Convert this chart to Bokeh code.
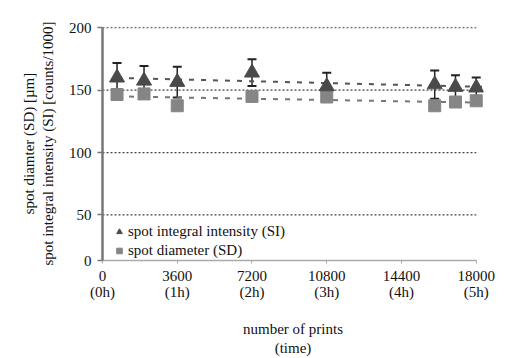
import numpy as np
from bokeh.plotting import figure
from bokeh.models import (ColumnDataSource, Range1d, FixedTicker, Whisker, TeeHead,
                          Legend, LegendItem)
from bokeh.embed import file_html
from bokeh.resources import INLINE

# ---- data ----
prints = [700, 2000, 3600, 7200, 10800, 16000, 17000, 18000]
si_values = [160, 157.5, 156.5, 164, 153, 154.5, 152.5, 152]
si_errors = [11.7, 11.9, 12.3, 10.7, 10.9, 11.3, 9.5, 8.1]
sd_values = [146.5, 147, 137.5, 145, 144.5, 137.5, 140.5, 141.5]

x_ticks = [0, 3600, 7200, 10800, 14400, 18000]
x_tick_labels = ["0\n(0h)", "3600\n(1h)", "7200\n(2h)", "10800\n(3h)", "14400\n(4h)", "18000\n(5h)"]
y_grid_values = [50, 100, 150, 200]
y_axis_floor = 13.5          # the axis is drawn from here; labelled "0" in the original
trend_forward = 300          # trendline forecast beyond the last point

FONT = "Liberation Serif"
SIZE = "15px"

p = figure(width=506, height=358, output_backend="svg", toolbar_location=None,
           x_range=Range1d(0, 18350), y_range=Range1d(y_axis_floor, 201),
           min_border_left=102, min_border_right=23, min_border_top=26, min_border_bottom=96)
p.outline_line_color = None
p.xgrid.visible = False
p.ygrid.visible = False
p.background_fill_color = "white"

# grid lines (dotted), only across the labelled x extent
p.segment(x0=[x_ticks[0]] * len(y_grid_values), x1=[x_ticks[-1]] * len(y_grid_values),
          y0=y_grid_values, y1=y_grid_values, line_color="#444444",
          line_width=1.2, line_dash="2 2")

# trendlines
xs = np.array(prints, dtype=float)
tx = np.array([xs.min(), xs.max() + trend_forward])
for vals, col in ((si_values, "#555555"), (sd_values, "#777777")):
    k, b = np.polyfit(xs, np.array(vals, dtype=float), 1)
    p.line(tx, k * tx + b, line_color=col, line_width=2, line_dash="5 7")

# error bars for SI
src = ColumnDataSource(dict(
    x=prints,
    upper=[v + e for v, e in zip(si_values, si_errors)],
    lower=[v - e for v, e in zip(si_values, si_errors)],
))
wh = Whisker(base="x", upper="upper", lower="lower", source=src,
             line_color="#222222", line_width=1.5,
             upper_head=TeeHead(size=9, line_width=2, line_color="#222222"),
             lower_head=TeeHead(size=9, line_width=2, line_color="#222222"))
p.add_layout(wh)

sq = p.scatter(prints, sd_values, marker="square", size=12,
               fill_color="#858585", line_color="#858585")
tri = p.scatter(prints, si_values, marker="triangle", size=15,
                fill_color="#4a4a4a", line_color="#4a4a4a")

# axes
xa = p.xaxis[0]
ya = p.yaxis[0]
xa.ticker = FixedTicker(ticks=x_ticks)
xa.major_label_overrides = dict(zip(x_ticks, x_tick_labels))
xa.bounds = (x_ticks[0], x_ticks[-1])
xa.axis_line_color = "#aaaaaa"
xa.axis_line_width = 1.5
xa.major_tick_line_color = "#aaaaaa"
xa.major_tick_in = 0
xa.major_tick_out = 3
xa.minor_tick_line_color = None
xa.major_label_standoff = 4
xa.major_label_text_line_height = 1.0
xa.axis_label = "number of prints\n(time)"
xa.axis_label_standoff = 18

y_ticks = [y_axis_floor] + y_grid_values
ya.ticker = FixedTicker(ticks=y_ticks)
ya.major_label_overrides = {y_axis_floor: "0"}
ya.bounds = (y_axis_floor, 200)
ya.axis_line_color = "#777777"
ya.axis_line_width = 2.5
ya.major_tick_line_color = "#777777"
ya.major_tick_line_width = 1.5
ya.major_tick_in = 0
ya.major_tick_out = 5
ya.minor_tick_line_color = None
ya.major_label_standoff = 6
ya.axis_label = "spot diamter (SD) [µm]\nspot integral intensity (SI) [counts/1000]"
ya.axis_label_standoff = 10

for ax in (xa, ya):
    ax.major_label_text_font = FONT
    ax.major_label_text_font_size = SIZE
    ax.major_label_text_color = "#111111"
    ax.axis_label_text_font = FONT
    ax.axis_label_text_font_size = SIZE
    ax.axis_label_text_font_style = "normal"
    ax.axis_label_text_color = "#111111"

legend = Legend(items=[LegendItem(label="spot integral intensity (SI)", renderers=[tri]),
                       LegendItem(label="spot diameter (SD)", renderers=[sq])],
                location=(10, 0), orientation="vertical",
                padding=0, margin=0, spacing=0,
                glyph_width=14, glyph_height=19, label_height=19, label_standoff=2,
                background_fill_alpha=0, border_line_color=None,
                label_text_font=FONT, label_text_font_size=SIZE, label_text_color="#111111")
p.add_layout(legend)

open("out.html", "w").write(file_html(p, INLINE))
